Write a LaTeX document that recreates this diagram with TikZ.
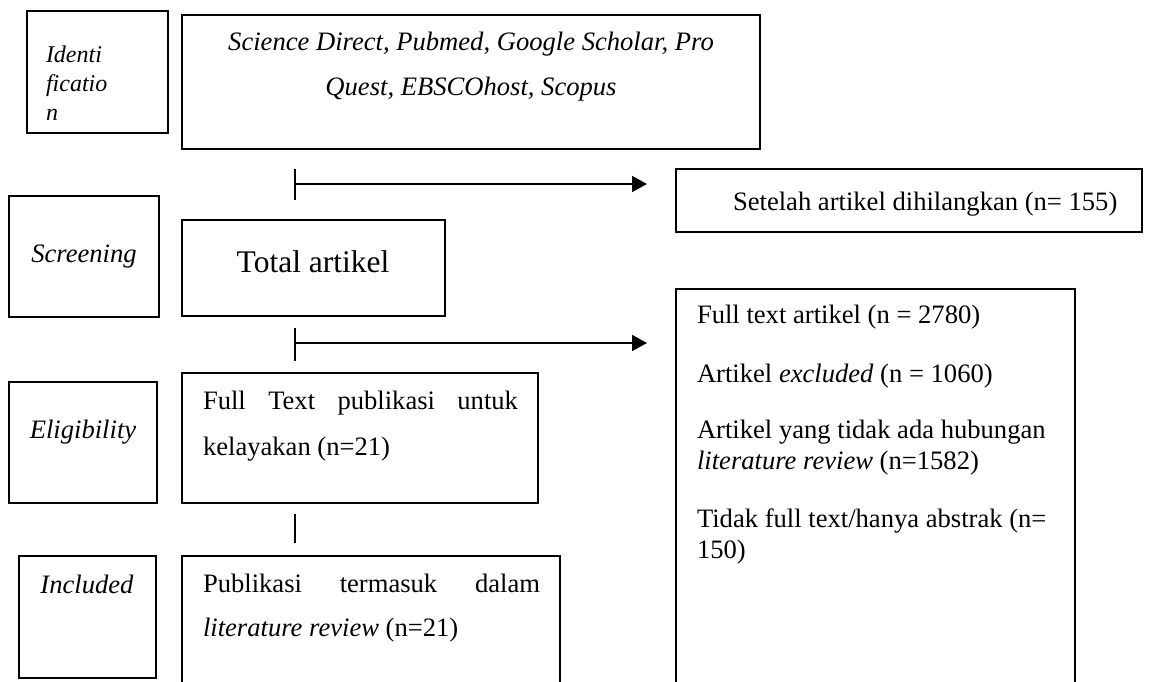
\documentclass[tikz,border=0pt]{standalone}
\usepackage{fontspec}
\setmainfont{Liberation Serif}
\usetikzlibrary{arrows.meta}
\tikzset{
  box/.style={draw, line width=1.8pt, inner sep=0pt, outer sep=0pt},
  txt/.style={inner sep=0pt, outer sep=0pt, font=\fontsize{26.6}{30}\selectfont},
  itxt/.style={inner sep=0pt, outer sep=0pt, font=\fontsize{26.6}{30}\selectfont\itshape},
  ltxt/.style={inner sep=0pt, outer sep=0pt, font=\fontsize{24}{28}\selectfont\itshape},
  bigtxt/.style={inner sep=0pt, outer sep=0pt, font=\fontsize{31.5}{36}\selectfont},
  tickline/.style={line width=1.8pt},
  arr/.style={line width=1.8pt, -{Triangle[length=15pt,width=16pt]}},
}
\begin{document}
\begin{tikzpicture}[x=1pt,y=-1pt]
\clip (0,0) rectangle (1170,681);
\fill[white] (0,0) rectangle (1170,681);

% boxes
\node[box, minimum width=141pt, minimum height=122pt] (ident) at (97.5,72) {};
\node[box, minimum width=578pt, minimum height=134pt] (sci) at (471,82) {};
\node[box, minimum width=466pt, minimum height=63pt] (setelah) at (909,200.5) {};
\node[box, minimum width=150pt, minimum height=121pt] (screen) at (84,256.5) {};
\node[box, minimum width=263pt, minimum height=96pt] (total) at (313.5,268) {};
\node[box, minimum width=399pt, minimum height=431pt] (big) at (875.5,504.5) {};
\node[box, minimum width=148pt, minimum height=121pt] (elig) at (83,442.5) {};
\node[box, minimum width=356pt, minimum height=130pt] (full) at (360,438) {};
\node[box, minimum width=137pt, minimum height=122pt] (incl) at (87.5,617) {};
\node[box, minimum width=378pt, minimum height=164pt] (pub) at (371,638) {};

% texts
\node[ltxt, anchor=base west] (id1) at (46,62) {Identi};
\node[ltxt, anchor=base west] (id2) at (46,91) {ficatio};
\node[ltxt, anchor=base west] (id3) at (46,120) {n};

\node[itxt, anchor=base] (sci1) at (471,50) {Science Direct, Pubmed, Google Scholar, Pro};
\node[itxt, anchor=base] (sci2) at (471,95) {Quest, EBSCOhost, Scopus};

\node[txt, anchor=base west] (set1) at (733,210) {Setelah artikel dihilangkan (n= 155)};

\node[itxt, anchor=base] (scr1) at (84,262) {Screening};
\node[bigtxt, anchor=base] (tot1) at (313,272) {Total artikel};

\node[itxt, anchor=base] (eli1) at (83,438) {Eligibility};
\node[txt, anchor=base west] (ful1) at (203,409) {\makebox[315pt][s]{Full Text publikasi untuk}};
\node[txt, anchor=base west] (ful2) at (203,455) {kelayakan (n=21)};

\node[itxt, anchor=base] (inc1) at (87,593) {Included};
\node[txt, anchor=base west] (pub1) at (203,592) {\makebox[337pt][s]{Publikasi termasuk dalam}};
\node[txt, anchor=base west] (pub2) at (203,636) {\textit{literature review} (n=21)};

\node[txt, anchor=base west] (b1) at (697,323) {Full text artikel (n = 2780)};
\node[txt, anchor=base west] (b2) at (697,382) {Artikel \textit{excluded} (n = 1060)};
\node[txt, anchor=base west] (b3) at (697,438) {Artikel yang tidak ada hubungan};
\node[txt, anchor=base west] (b4) at (697,469) {\textit{literature review} (n=1582)};
\node[txt, anchor=base west] (b5) at (697,527) {Tidak full text/hanya abstrak (n=};
\node[txt, anchor=base west] (b6) at (697,558) {150)};

% connectors
\coordinate (t1a) at (295,169);
\coordinate (t1b) at (295,200);
\coordinate (t1m) at (295,184);
\coordinate (a1) at (647,184);
\coordinate (t2a) at (295,328);
\coordinate (t2b) at (295,361);
\coordinate (t2m) at (295,343);
\coordinate (a2) at (647,343);
\coordinate (t3a) at (295,514);
\coordinate (t3b) at (295,543);

\draw[tickline] (t1a) -- (t1b);
\draw[arr] (t1m) -- (a1);
\draw[tickline] (t2a) -- (t2b);
\draw[arr] (t2m) -- (a2);
\draw[tickline] (t3a) -- (t3b);
\end{tikzpicture}
\end{document}
